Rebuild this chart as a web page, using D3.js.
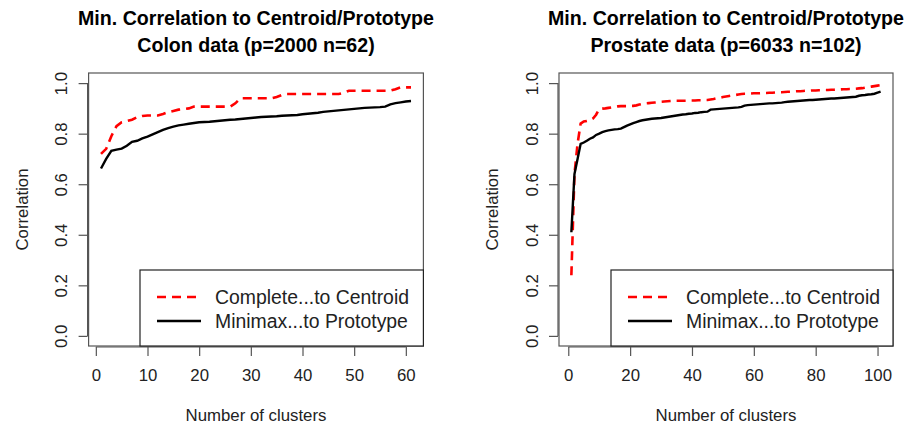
<!DOCTYPE html>
<html>
<head>
<meta charset="utf-8">
<script src="https://cdn.jsdelivr.net/npm/d3@7"></script>
<style>
  html, body { margin: 0; padding: 0; background: #fff; }
  svg { display: block; font-family: "Liberation Sans", Arial, Helvetica, sans-serif; }
</style>
</head>
<body>
<svg id="chart" width="913" height="433"></svg>
<script>
// Colon data: minimum correlation for k = 1..61 clusters
const colonComplete = [
  0.72, 0.74, 0.79, 0.83, 0.845, 0.85, 0.855, 0.865, 0.87, 0.872,
  0.872, 0.872, 0.878, 0.885, 0.89, 0.895, 0.897, 0.90, 0.907, 0.907,
  0.907, 0.907, 0.907, 0.907, 0.907, 0.907, 0.92, 0.94, 0.94, 0.94,
  0.94, 0.94, 0.94, 0.94, 0.945, 0.953, 0.957, 0.957, 0.957, 0.957,
  0.957, 0.957, 0.957, 0.957, 0.957, 0.957, 0.957, 0.962, 0.97, 0.97,
  0.97, 0.97, 0.97, 0.97, 0.97, 0.97, 0.97, 0.976, 0.983, 0.983,
  0.983
];
const colonMinimax = [
  0.662, 0.70, 0.732, 0.737, 0.741, 0.752, 0.768, 0.772, 0.781, 0.788,
  0.797, 0.806, 0.815, 0.822, 0.828, 0.833, 0.836, 0.839, 0.842, 0.845,
  0.846, 0.847, 0.849, 0.851, 0.853, 0.855, 0.856, 0.858, 0.86, 0.862,
  0.864, 0.866, 0.867, 0.868, 0.869, 0.871, 0.872, 0.873, 0.874, 0.877,
  0.879, 0.881, 0.883, 0.886, 0.888, 0.89, 0.892, 0.894, 0.896, 0.898,
  0.90, 0.902, 0.903, 0.904, 0.905, 0.907, 0.916, 0.921, 0.924, 0.927,
  0.929
];

// Prostate data: minimum correlation for k = 1..101 clusters
const prostateComplete = [
  0.24, 0.64, 0.76, 0.84, 0.848, 0.85, 0.853, 0.86, 0.875, 0.897,
  0.899, 0.90, 0.902, 0.904, 0.906, 0.908, 0.909, 0.909, 0.909, 0.91,
  0.91, 0.912, 0.915, 0.918, 0.92, 0.921, 0.922, 0.923, 0.924, 0.926,
  0.927, 0.928, 0.929, 0.93, 0.93, 0.93, 0.93, 0.93, 0.931, 0.931,
  0.931, 0.932, 0.932, 0.933, 0.933, 0.935, 0.937, 0.94, 0.942, 0.945,
  0.947, 0.949, 0.951, 0.953, 0.955, 0.957, 0.958, 0.958, 0.959, 0.96,
  0.96, 0.96, 0.961, 0.961, 0.962, 0.962, 0.963, 0.964, 0.964, 0.965,
  0.966, 0.966, 0.967, 0.968, 0.968, 0.969, 0.97, 0.97, 0.971, 0.971,
  0.972, 0.972, 0.973, 0.973, 0.974, 0.974, 0.975, 0.975, 0.976, 0.976,
  0.977, 0.977, 0.978, 0.979, 0.98, 0.982, 0.984, 0.986, 0.988, 0.99,
  0.992
];
const prostateMinimax = [
  0.41, 0.64, 0.70, 0.76, 0.765, 0.772, 0.78, 0.785, 0.795, 0.80,
  0.806, 0.81, 0.813, 0.815, 0.817, 0.818, 0.82, 0.826, 0.832, 0.837,
  0.842, 0.846, 0.85, 0.853, 0.855, 0.857, 0.859, 0.86, 0.861, 0.862,
  0.864, 0.866, 0.868, 0.87, 0.872, 0.874, 0.876, 0.877, 0.879, 0.88,
  0.882, 0.883, 0.885, 0.886, 0.887, 0.895, 0.896, 0.897, 0.898, 0.899,
  0.90, 0.901, 0.902, 0.903, 0.904, 0.906, 0.911, 0.913, 0.914, 0.915,
  0.916, 0.917, 0.918, 0.919, 0.92, 0.92, 0.921, 0.922, 0.923, 0.925,
  0.926, 0.927, 0.928, 0.929, 0.93, 0.931, 0.932, 0.933, 0.933, 0.934,
  0.935, 0.936, 0.937, 0.938, 0.939, 0.939, 0.94, 0.941, 0.942, 0.943,
  0.944, 0.945, 0.946, 0.95, 0.952, 0.953, 0.955, 0.956, 0.958, 0.962,
  0.966
];

const yTicks = [0.0, 0.2, 0.4, 0.6, 0.8, 1.0];
const colonXTicks = [0, 10, 20, 30, 40, 50, 60];
const prostateXTicks = [0, 20, 40, 60, 80, 100];
const legendLabels = ["Complete...to Centroid", "Minimax...to Prototype"];
const seriesColors = ["#ff0000", "#000000"];

const panels = [
  {
    title: ["Min. Correlation to Centroid/Prototype", "Colon data (p=2000 n=62)"],
    complete: colonComplete, minimax: colonMinimax, xTicks: colonXTicks,
    left: 88.6, right: 423.4, legendLeft: 140
  },
  {
    title: ["Min. Correlation to Centroid/Prototype", "Prostate data (p=6033 n=102)"],
    complete: prostateComplete, minimax: prostateMinimax, xTicks: prostateXTicks,
    left: 559, right: 893, legendLeft: 611
  }
];

const svg = d3.select("#chart");
const plotTop = 73, plotBottom = 346;
const axisColor = "#555";
const textColor = "#222";
const labelSize = 16.8;

// R-style 4% padding on each side of the data range
function padded(lo, hi) {
  const p = (hi - lo) * 0.04;
  return [lo - p, hi + p];
}

panels.forEach(panel => {
  const n = panel.complete.length;
  const x = d3.scaleLinear().domain(padded(1, n)).range([panel.left, panel.right]);
  const y = d3.scaleLinear().domain(padded(0, 1)).range([plotBottom, plotTop]);
  const g = svg.append("g");
  const cx = (panel.left + panel.right) / 2;

  // Title
  panel.title.forEach((t, i) => {
    g.append("text")
      .attr("x", cx).attr("y", 25 + i * 27)
      .attr("text-anchor", "middle")
      .attr("font-weight", "bold")
      .attr("font-size", 19.6)
      .attr("fill", "#000")
      .text(t);
  });

  // Series lines
  const line = d3.line().x((d, i) => x(i + 1)).y(d => y(d));
  g.append("path").datum(panel.complete)
    .attr("d", line).attr("fill", "none")
    .attr("stroke", seriesColors[0]).attr("stroke-width", 2.6)
    .attr("stroke-dasharray", "9,6");
  g.append("path").datum(panel.minimax)
    .attr("d", line).attr("fill", "none")
    .attr("stroke", seriesColors[1]).attr("stroke-width", 2.4);

  // Plot box
  g.append("rect")
    .attr("x", panel.left).attr("y", plotTop)
    .attr("width", panel.right - panel.left).attr("height", plotBottom - plotTop)
    .attr("fill", "none").attr("stroke", axisColor).attr("stroke-width", 1.2);

  // X axis
  const xAxis = d3.axisBottom(x).tickValues(panel.xTicks).tickSize(9).tickPadding(13)
    .tickFormat(d3.format("d"));
  const xg = g.append("g").attr("transform", `translate(0,${plotBottom + 1})`).call(xAxis);
  xg.select(".domain").attr("stroke", axisColor).attr("stroke-width", 1.2)
    .attr("d", `M${x(panel.xTicks[0])},0H${x(panel.xTicks[panel.xTicks.length - 1])}`);
  xg.selectAll(".tick line").attr("stroke", axisColor).attr("stroke-width", 1.2);
  xg.selectAll(".tick text").attr("font-size", labelSize).attr("fill", textColor)
    .attr("font-family", "Liberation Sans, Arial, sans-serif");

  // Y axis with vertical labels
  const yAxis = d3.axisLeft(y).tickValues(yTicks).tickSize(9).tickFormat(d3.format(".1f"));
  const yg = g.append("g").attr("transform", `translate(${panel.left - 1},0)`).call(yAxis);
  yg.select(".domain").attr("stroke", axisColor).attr("stroke-width", 1.2)
    .attr("d", `M0,${y(0)}V${y(1)}`);
  yg.selectAll(".tick line").attr("stroke", axisColor).attr("stroke-width", 1.2);
  yg.selectAll(".tick text")
    .attr("font-size", labelSize).attr("fill", textColor)
    .attr("font-family", "Liberation Sans, Arial, sans-serif")
    .attr("x", null).attr("dy", null)
    .attr("text-anchor", "middle")
    .attr("transform", "translate(-26,0) rotate(-90)")
    .attr("dominant-baseline", "central");

  // Axis titles
  g.append("text")
    .attr("x", cx).attr("y", 421)
    .attr("text-anchor", "middle").attr("font-size", labelSize).attr("fill", textColor)
    .text("Number of clusters");
  g.append("text")
    .attr("transform", `translate(${panel.left - 61},${(plotTop + plotBottom) / 2}) rotate(-90)`)
    .attr("text-anchor", "middle").attr("font-size", labelSize).attr("fill", textColor)
    .text("Correlation");

  // Legend
  const lg = g.append("g");
  lg.append("rect")
    .attr("x", panel.legendLeft).attr("y", 270)
    .attr("width", panel.right - panel.legendLeft).attr("height", plotBottom - 270)
    .attr("fill", "#fff").attr("stroke", "#222").attr("stroke-width", 1.2);
  legendLabels.forEach((lab, i) => {
    const ly = 297 + i * 24;
    lg.append("line")
      .attr("x1", panel.legendLeft + 17).attr("x2", panel.legendLeft + 61)
      .attr("y1", ly).attr("y2", ly)
      .attr("stroke", seriesColors[i]).attr("stroke-width", i === 0 ? 2.6 : 2.4)
      .attr("stroke-dasharray", i === 0 ? "9,6" : null);
    lg.append("text")
      .attr("x", panel.legendLeft + 75).attr("y", ly)
      .attr("dominant-baseline", "central")
      .attr("font-size", 19.4).attr("fill", textColor)
      .text(lab);
  });
});
</script>
</body>
</html>
